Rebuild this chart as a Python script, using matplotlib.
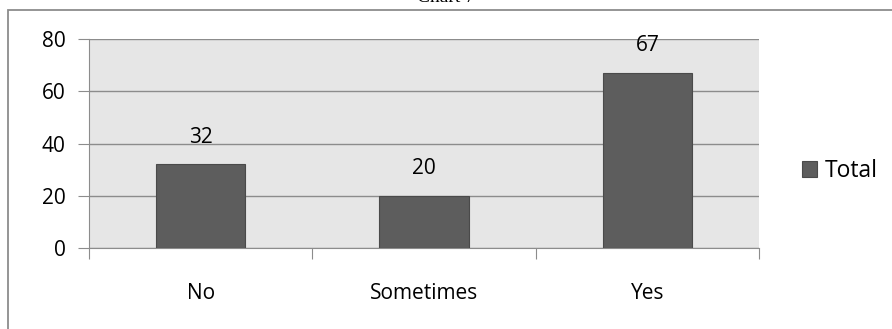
import matplotlib.pyplot as plt
from matplotlib.patches import Rectangle

categories = ["No", "Sometimes", "Yes"]
totals = [32, 20, 67]
yticks = [0, 20, 40, 60, 80]

W, H = 892, 329
fig = plt.figure(figsize=(W / 100, H / 100), dpi=100)
plt.rcParams['font.family'] = ['Open Sans', 'DejaVu Sans']
fs = 15

# outer chart frame (bottom/right fall outside the canvas)
fig.add_artist(Rectangle((8 / W, -0.1), 1.0, (H - 10) / H + 0.1, transform=fig.transFigure,
                         fill=False, edgecolor="#8c8c8c", lw=1.3))
fig.text(446 / W, (H + 3) / H, "Chart 7", ha="center", va="center",
         family="Liberation Serif", fontsize=14)

left, right, top, bottom = 89, 759, 39, 248
ax = fig.add_axes([left / W, 1 - bottom / H, (right - left) / W, (bottom - top) / H])
ax.set_facecolor("#e6e6e6")

x = range(len(categories))
ax.bar(x, totals, width=0.40, color="#5d5d5d", edgecolor="#4a4a4a", lw=0.8,
       label="Total", zorder=3)
for i, v in zip(x, totals):
    ax.annotate(str(v), (i, v), xytext=(0, 19.5), textcoords="offset points",
                ha="center", va="center", fontsize=fs)

ax.set_xlim(-0.5, 2.5)
ax.set_ylim(0, 80)
ax.set_yticks(yticks)
ax.set_xticks([-0.5, 0.5, 1.5, 2.5], minor=False)
ax.set_xticklabels([])
ax.set_xticks(list(x), minor=True)
ax.set_xticklabels(categories, minor=True, fontsize=fs)
ax.tick_params(axis="x", which="minor", length=0, pad=25)
ax.tick_params(axis="x", which="major", length=8, color="#8c8c8c", direction="out")
ax.tick_params(axis="y", length=8, color="#8c8c8c", labelsize=fs, pad=9)
ax.grid(axis="y", color="#8c8c8c", lw=1.0, zorder=1)
for s in ["top", "right"]:
    ax.spines[s].set_visible(False)
for s in ["left", "bottom"]:
    ax.spines[s].set_color("#8c8c8c")

fig.legend(loc="center left", bbox_to_anchor=(802 / W, 1 - 171 / H), frameon=False,
           fontsize=16.5, borderpad=0, borderaxespad=0,
           handlelength=0.65, handleheight=0.65, handletextpad=0.35)

fig.savefig("out.png", dpi=100)
